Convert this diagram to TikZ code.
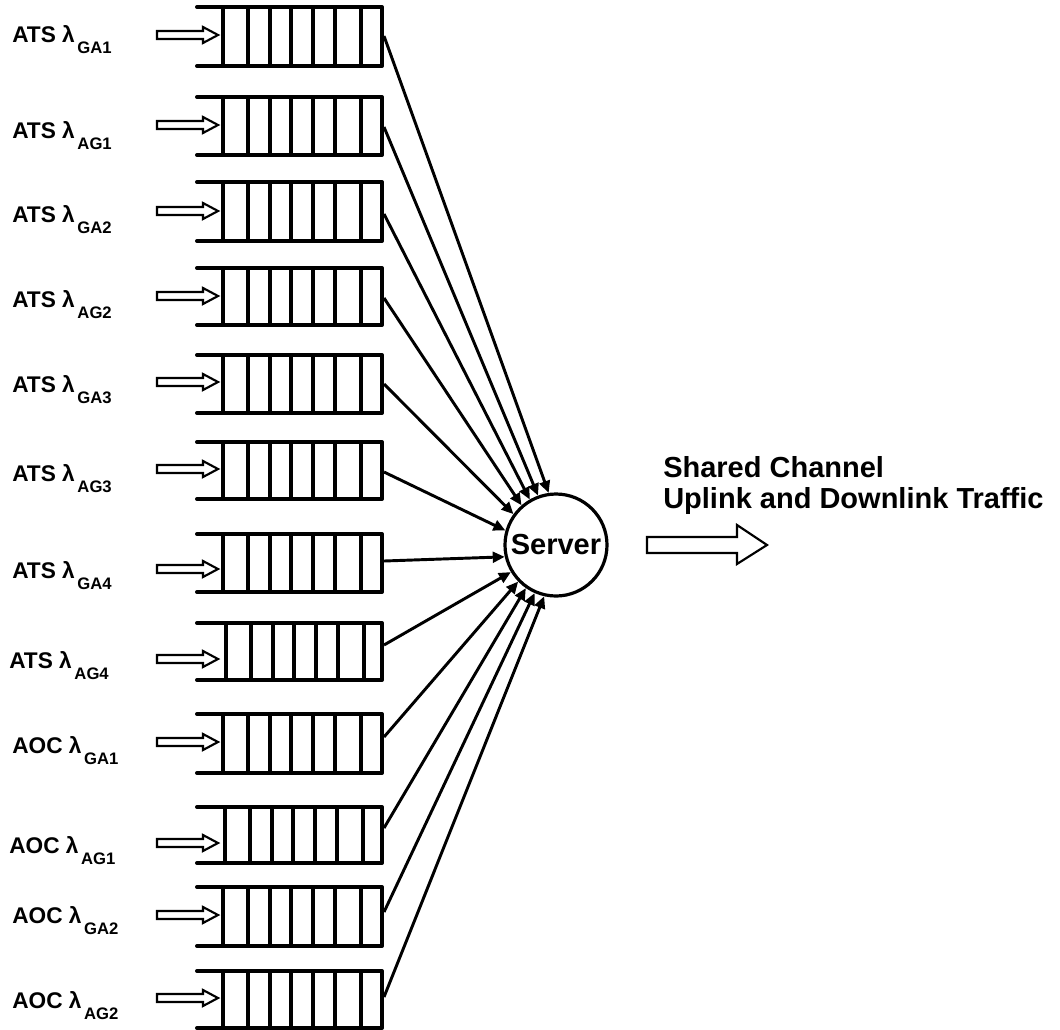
\documentclass[tikz,border=0pt]{standalone}
\usepackage{fontspec}
\setmainfont{Liberation Sans}
\usetikzlibrary{arrows.meta}
\tikzset{
  qline/.style={line width=3pt, line join=round, line cap=round},
  qcell/.style={line width=2.4pt},
  feed/.style={draw, fill=white, line width=1.6pt, line join=miter},
  conn/.style={line width=2.2pt, -{Triangle[length=9pt,width=8pt]}},
  lab/.style={anchor=base west, inner sep=0pt, font=\bfseries\fontsize{17}{20}\selectfont},
  title/.style={anchor=base west, inner sep=0pt, font=\bfseries\fontsize{21.75}{24}\selectfont},
}
\newcommand{\lsub}[1]{\kern2pt\raisebox{-8.25pt}{\fontsize{12.5}{14}\selectfont #1}}
\begin{document}
\begin{tikzpicture}[x=0.75pt,y=-0.75pt]
\useasboundingbox (0,0) rectangle (1060,1029);

% the shared server
\node[circle, draw, line width=2.4pt, minimum size=76.5pt, inner sep=0pt,
      font=\bfseries\fontsize{21.75}{24}\selectfont] (server) at (556,545) {Server};

% queues: top, bottom, feed arrow y, label baseline, label x, exit y, entry angle, source, index, cell shift
\foreach \i/\qt/\qb/\ay/\lb/\lx/\sy/\ang/\src/\idx/\dx in {
  1/7/66/35/42/12/36/98/ATS/GA1/0,
  2/97/155/125/138/12/127/110/ATS/AG1/0,
  3/182/241/211/222/12/214/120/ATS/GA2/0,
  4/268/325/296/307/12/298/131/ATS/AG2/0,
  5/355/413/382/392/12/384/144/ATS/GA3/0,
  6/442/499/469/481/12/472/164/ATS/AG3/0,
  7/534/592/569/578/12/561/193/ATS/GA4/0,
  8/623/680/659/668/9/645/211/ATS/AG4/3,
  9/714/773/742/753/12/737/224/AOC/GA1/0,
  10/807/863/843/853/9/828/235/AOC/AG1/2,
  11/887/946/915/923/12/912/246/AOC/GA2/0,
  12/971/1028/998/1008/12/997/257/AOC/AG2/0}{
  % open-ended buffer
  \draw[qline] (197,\qt) -- (382,\qt) -- (382,\qb) -- (197,\qb);
  \foreach \x in {223,248,270,291,313,335,361}
    \draw[qcell] (\x+\dx,\qt) -- (\x+\dx,\qb);
  % arrival arrow
  \draw[feed] (157,\ay-4) -- (203,\ay-4) -- (203,\ay-8) -- (218,\ay)
    -- (203,\ay+8) -- (203,\ay+4) -- (157,\ay+4) -- cycle;
  % traffic class label
  \node[lab] (lab\i) at (\lx,\lb) {\src\ λ\lsub{\idx}};
  % link to the server
  \coordinate (out\i) at (384,\sy);
  \draw[conn] (out\i) -- (server.\ang);
}

% output of the shared channel
\node[title] (title1) at (663,477) {Shared Channel};
\node[title] (title2) at (663,508) {Uplink and Downlink Traffic};
\draw[line width=1.6pt, fill=white, line join=miter]
  (647,537) -- (737,537) -- (737,525) -- (767,545) -- (737,564)
  -- (737,553) -- (647,553) -- cycle;
\end{tikzpicture}
\end{document}
